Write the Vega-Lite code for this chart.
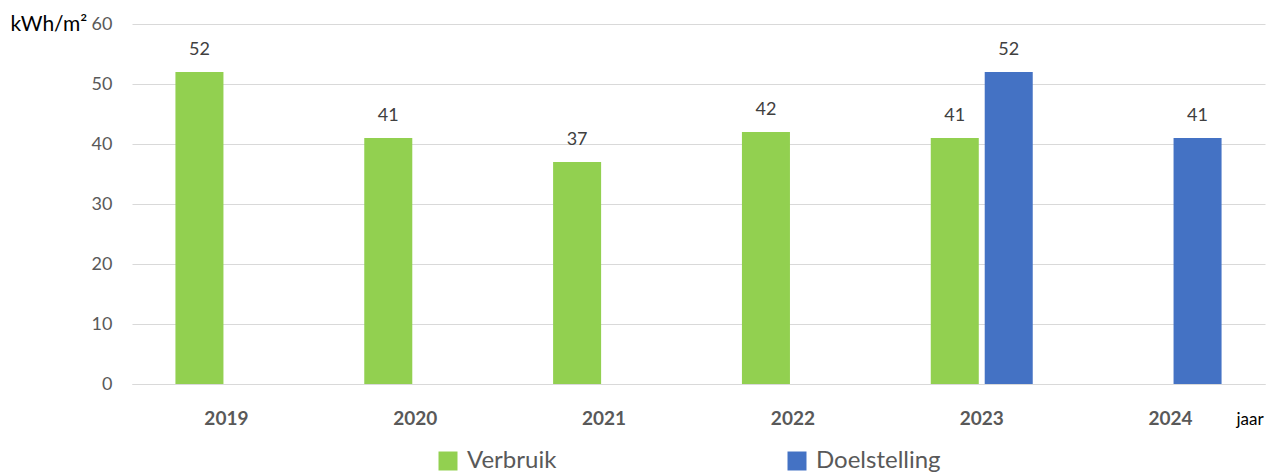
{
  "$schema": "https://vega.github.io/schema/vega-lite/v6.json",
  "width": 1133,
  "height": 360,
  "autosize": {"type": "none"},
  "padding": {"left": 132, "top": 24, "right": 9, "bottom": 90},
  "background": "white",
  "config": {
    "font": "Lato",
    "view": {"stroke": null}
  },
  "data": {
    "values": [
      {"jaar": "2019", "serie": "Verbruik", "waarde": 52},
      {"jaar": "2020", "serie": "Verbruik", "waarde": 41},
      {"jaar": "2021", "serie": "Verbruik", "waarde": 37},
      {"jaar": "2022", "serie": "Verbruik", "waarde": 42},
      {"jaar": "2023", "serie": "Verbruik", "waarde": 41},
      {"jaar": "2023", "serie": "Doelstelling", "waarde": 52},
      {"jaar": "2024", "serie": "Doelstelling", "waarde": 41}
    ]
  },
  "encoding": {
    "x": {
      "field": "jaar", "type": "nominal",
      "scale": {"paddingInner": 0.46, "paddingOuter": 0.23},
      "axis": {
        "labelAngle": 0, "labelFontSize": 19, "labelFontWeight": "bold", "labelColor": "#595959",
        "labelPadding": 25, "ticks": false, "domainColor": "#d9d9d9",
        "title": "jaar", "titleFontSize": 17, "titleFontWeight": "normal", "titleColor": "#000000",
        "titleAngle": 0, "titleAlign": "left", "titleBaseline": "middle", "titleX": 1104, "titleY": 35
      }
    },
    "xOffset": {
      "field": "serie", "type": "nominal",
      "scale": {"domain": ["Verbruik", "Doelstelling"], "paddingInner": 0.11, "paddingOuter": 0}
    },
    "y": {
      "field": "waarde", "type": "quantitative",
      "scale": {"domain": [0, 60], "nice": false},
      "axis": {
        "values": [0, 10, 20, 30, 40, 50, 60], "labelFontSize": 18, "labelColor": "#595959",
        "labelPadding": 20, "ticks": false, "domain": false, "gridColor": "#d9d9d9",
        "title": "kWh/m²", "titleFontSize": 21, "titleFontWeight": "normal", "titleColor": "#000000",
        "titleAngle": 0, "titleAlign": "left", "titleBaseline": "middle", "titleX": -122, "titleY": 0
      }
    }
  },
  "layer": [
    {
      "mark": {"type": "bar"},
      "encoding": {
        "color": {
          "field": "serie", "type": "nominal",
          "scale": {"domain": ["Verbruik", "Doelstelling"], "range": ["#92d050", "#4472c4"]},
          "legend": {
            "title": null, "orient": "none", "legendX": 304, "legendY": 425,
            "direction": "horizontal", "columns": 2, "columnPadding": 228,
            "symbolType": "square", "symbolSize": 361, "symbolStrokeWidth": 0,
            "labelFontSize": 24, "labelColor": "#595959", "labelOffset": 7, "padding": 0
          }
        }
      }
    },
    {
      "mark": {"type": "text", "baseline": "alphabetic", "dy": -17, "fontSize": 18, "color": "#404040"},
      "encoding": {"text": {"field": "waarde", "type": "quantitative"}}
    }
  ]
}
